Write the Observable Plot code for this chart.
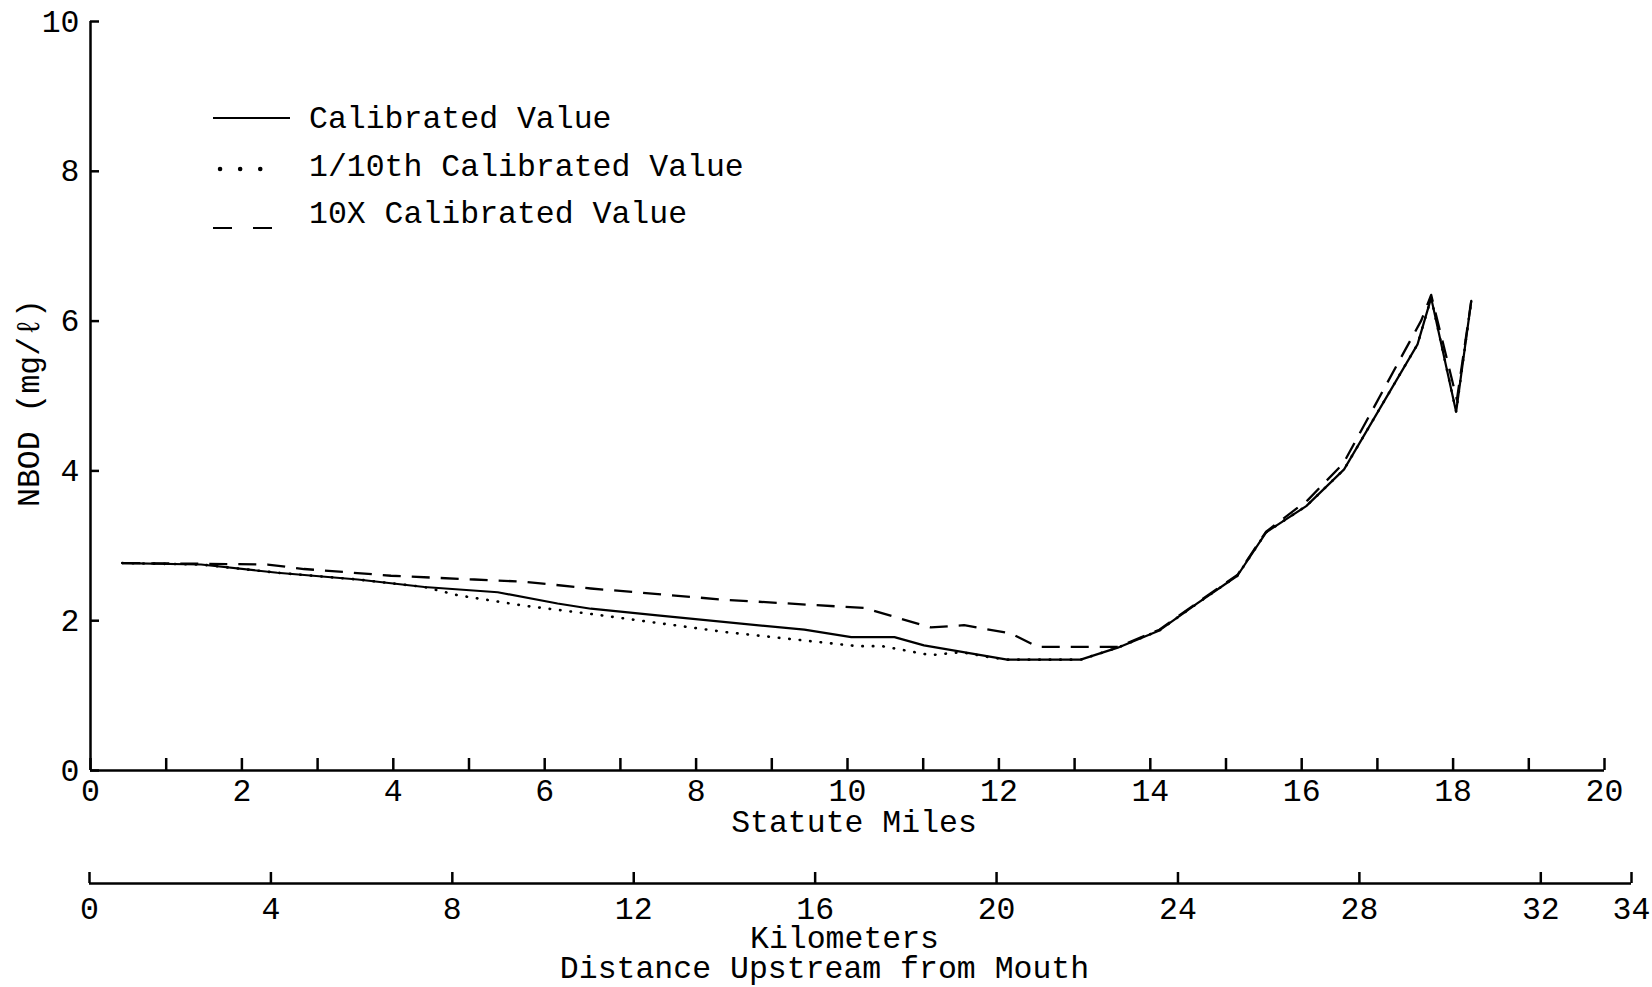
<!DOCTYPE html>
<html>
<head>
<meta charset="utf-8">
<script src="https://cdn.jsdelivr.net/npm/d3@7"></script>
<script src="https://cdn.jsdelivr.net/npm/@observablehq/plot@0.6"></script>
<style>
  html, body { margin: 0; padding: 0; background: #fff; }
  #wrap { position: relative; width: 1652px; height: 987px; overflow: hidden; background: #fff; }
  #wrap > svg { display: block; }
  #legend { position: absolute; left: 0; top: 0; }
</style>
</head>
<body>
<div id="wrap"></div>
<script>
// ---------- data ----------
const milesCal = [0.42, 1.46, 2.47, 3.53, 4.41, 5.38, 6.17, 6.61, 7.49, 9.43, 10.05, 10.62, 11.01, 12.11, 13.08, 13.57, 14.12, 14.62, 15.15, 15.53, 16.06, 16.56, 17.53, 17.71, 18.04, 18.24];
const nbodCal  = [2.77, 2.75, 2.64, 2.55, 2.45, 2.38, 2.23, 2.16, 2.07, 1.88, 1.78, 1.78, 1.67, 1.48, 1.48, 1.64, 1.87, 2.23, 2.60, 3.18, 3.53, 4.02, 5.69, 6.31, 4.79, 6.27];

const milesTenth = [0.42, 1.46, 2.47, 3.53, 4.41, 4.85, 5.73, 6.61, 8.37, 10.13, 10.46, 11.10, 11.50, 11.89, 12.11, 13.08, 13.57, 14.12, 14.62, 15.15, 15.53, 16.06, 16.56, 17.53, 17.71, 18.04, 18.24];
const nbodTenth  = [2.77, 2.75, 2.64, 2.55, 2.45, 2.34, 2.20, 2.09, 1.85, 1.66, 1.66, 1.54, 1.58, 1.51, 1.48, 1.48, 1.64, 1.87, 2.23, 2.60, 3.18, 3.53, 4.02, 5.69, 6.31, 4.79, 6.27];

const milesTenX = [0.42, 1.46, 2.34, 2.82, 3.35, 3.97, 5.07, 5.73, 6.61, 8.37, 10.22, 11.10, 11.54, 12.16, 12.51, 13.21, 13.57, 14.12, 14.62, 15.15, 15.53, 16.08, 16.55, 17.58, 17.71, 18.05, 18.24];
const nbodTenX  = [2.77, 2.76, 2.75, 2.69, 2.65, 2.60, 2.55, 2.52, 2.43, 2.28, 2.17, 1.91, 1.94, 1.83, 1.65, 1.65, 1.65, 1.88, 2.24, 2.61, 3.19, 3.61, 4.10, 6.01, 6.35, 4.95, 6.27];

const mileTicks  = [0, 1, 2, 3, 4, 5, 6, 7, 8, 9, 10, 11, 12, 13, 14, 15, 16, 17, 18, 19, 20];
const mileLabels = [0, 2, 4, 6, 8, 10, 12, 14, 16, 18, 20];
const kmTicks    = [0, 4, 8, 12, 16, 20, 24, 28, 32, 34];
const yTicks     = [0, 2, 4, 6, 8, 10];

const seriesNames = ["Calibrated Value", "1/10th Calibrated Value", "10X Calibrated Value"];
const yTitle = "NBOD (mg/ℓ)";
const xTitle = "Statute Miles";
const kmTitle = "Kilometers";
const kmSubtitle = "Distance Upstream from Mouth";

// ---------- build tables ----------
const toRows = (xs, ys) => xs.map((x, i) => ({x, y: ys[i]}));
const calRows   = toRows(milesCal, nbodCal);
const tenthRows = toRows(milesTenth, nbodTenth);
const tenXRows  = toRows(milesTenX, nbodTenX);

const FONT = '"Liberation Mono", "Courier New", "DejaVu Sans Mono", monospace';
const FS = 31.5;
const AXW = 2.5;

const main = Plot.plot({
  width: 1652,
  height: 850,
  marginLeft: 90,
  marginRight: 48,
  marginTop: 21,
  marginBottom: 80,
  style: {fontFamily: FONT, fontSize: FS + "px", color: "#000", background: "#fff", overflow: "visible"},
  x: {domain: [0, 20]},
  y: {domain: [0, 10]},
  marks: [
    Plot.ruleX([0], {y1: 0, y2: 10, strokeWidth: AXW}),
    Plot.ruleY([0], {x1: 0, x2: 20, strokeWidth: AXW}),
    Plot.axisY(yTicks, {tickSize: -9, tickPadding: 20, strokeWidth: AXW, tickFormat: d => String(d), label: null}),
    Plot.axisX(mileTicks, {tickSize: -12, strokeWidth: AXW, tickFormat: () => "", label: null}),
    Plot.axisX(mileLabels, {tickSize: 0, tickPadding: 8, tickFormat: d => String(d), label: null}),
    Plot.text([yTitle], {text: d => d, frameAnchor: "left", textAnchor: "middle", rotate: -90, dx: -61.5, dy: 7, lineAnchor: "middle", fill: "#000"}),
    Plot.text([xTitle], {text: d => d, frameAnchor: "bottom", textAnchor: "middle", dx: 6.5, dy: 51, lineAnchor: "middle", fill: "#000"}),
    Plot.line(calRows,   {x: "x", y: "y", stroke: "#000", strokeWidth: 2.2}),
    Plot.line(tenthRows, {x: "x", y: "y", stroke: "#000", strokeWidth: 2.6, strokeDasharray: "0.5,10", strokeLinecap: "round"}),
    Plot.line(tenXRows,  {x: "x", y: "y", stroke: "#000", strokeWidth: 2.3, strokeDasharray: "18,11", strokeLinecap: "butt"})
  ]
});

const km = Plot.plot({
  width: 1652,
  height: 137,
  marginLeft: 89,
  marginRight: 21,
  marginTop: 20,
  marginBottom: 104,
  style: {fontFamily: FONT, fontSize: FS + "px", color: "#000", background: "#fff", overflow: "visible"},
  x: {domain: [0, 34]},
  y: {domain: [0, 1], axis: null},
  marks: [
    Plot.ruleY([0], {x1: 0, x2: 34, strokeWidth: AXW}),
    Plot.axisX(kmTicks, {tickSize: -11, tickPadding: 24, strokeWidth: AXW, tickFormat: d => String(d), label: null}),
    Plot.text([kmTitle], {text: d => d, frameAnchor: "bottom", textAnchor: "middle", dx: -16, dy: 54, lineAnchor: "middle", fill: "#000"}),
    Plot.text([kmSubtitle], {text: d => d, frameAnchor: "bottom", textAnchor: "middle", dx: -36, dy: 84, lineAnchor: "middle", fill: "#000"})
  ]
});

const wrap = document.getElementById("wrap");
wrap.appendChild(main);
wrap.appendChild(km);

// ---------- legend (overlay inside the plot area) ----------
const leg = d3.select(wrap).append("svg")
  .attr("id", "legend").attr("width", 800).attr("height", 260)
  .style("font-family", FONT).style("font-size", FS + "px");
const rowsY = [118, 166, 213];
// solid sample
leg.append("line").attr("x1", 213).attr("x2", 290).attr("y1", rowsY[0]).attr("y2", rowsY[0])
  .attr("stroke", "#000").attr("stroke-width", 2);
// dotted sample
leg.append("line").attr("x1", 220).attr("x2", 261).attr("y1", rowsY[1] + 3).attr("y2", rowsY[1] + 3)
  .attr("stroke", "#000").attr("stroke-width", 4.5).attr("stroke-linecap", "round").attr("stroke-dasharray", "0.1,20");
// dashed sample
leg.append("line").attr("x1", 213).attr("x2", 272).attr("y1", rowsY[2] + 15).attr("y2", rowsY[2] + 15)
  .attr("stroke", "#000").attr("stroke-width", 2).attr("stroke-dasharray", "19,21");
leg.selectAll("text.lab").data(seriesNames).join("text")
  .attr("class", "lab")
  .attr("x", 309)
  .attr("y", (d, i) => rowsY[i])
  .attr("dy", "0.33em")
  .attr("fill", "#000")
  .text(d => d);
</script>
</body>
</html>
